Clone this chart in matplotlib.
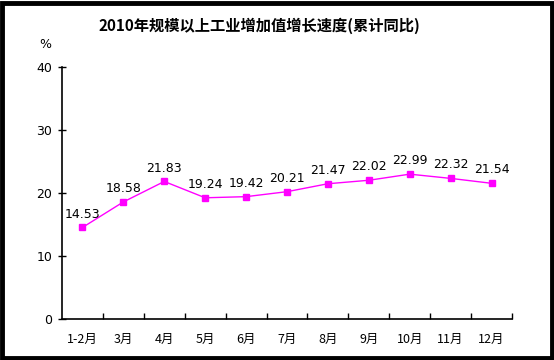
import matplotlib
matplotlib.use("Agg")
import matplotlib.pyplot as plt
from matplotlib.patches import Rectangle
from matplotlib.ticker import FixedLocator

plt.rcParams['font.family'] = ['Noto Sans CJK SC', 'DejaVu Sans']

months = ["1-2月", "3月", "4月", "5月", "6月", "7月", "8月", "9月", "10月", "11月", "12月"]
growth = [14.53, 18.58, 21.83, 19.24, 19.42, 20.21, 21.47, 22.02, 22.99, 22.32, 21.54]
yticks = [0, 10, 20, 30, 40]

fig = plt.figure(figsize=(5.54, 3.6), dpi=100)
ax = fig.add_axes([62/554, 1 - 319/360, 450/554, 252/360])

x = list(range(len(months)))
ax.plot(x, growth, color="#ff00ff", lw=1, marker="s", markersize=4.5,
        markerfacecolor="#ff00ff", markeredgecolor="#ff00ff")
for xi, v in zip(x, growth):
    ax.annotate(f"{v:.2f}", (xi, v), xytext=(0, 5), textcoords="offset points",
                ha="center", va="bottom", fontsize=9, family="DejaVu Sans")

ax.set_xlim(-0.5, len(months) - 0.5)
ax.set_ylim(0, 40)
ax.set_yticks(yticks)
ax.set_yticklabels([str(t) for t in yticks], family="DejaVu Sans", fontsize=9)
ax.tick_params(axis="y", direction="inout", length=6, width=1, pad=4)

# category labels centred, tick marks between categories
ax.xaxis.set_major_locator(FixedLocator([i + 0.5 for i in x]))
ax.xaxis.set_minor_locator(FixedLocator(x))
ax.set_xticklabels([])
ax.set_xticklabels(months, minor=True, fontsize=9)
ax.tick_params(axis="x", which="major", direction="in", length=4, width=1)
ax.tick_params(axis="x", which="minor", length=0, pad=10)

for s in ["top", "right"]:
    ax.spines[s].set_visible(False)
for s in ["left", "bottom"]:
    ax.spines[s].set_linewidth(1.2)

fig.text(259/554, 1 - 26/360, "2010年规模以上工业增加值增长速度(累计同比)",
         ha="center", va="center", fontsize=11, fontweight="bold")
fig.text(45/554, 1 - 44/360, "%", ha="center", va="center", fontsize=9,
         family="DejaVu Sans")

fig.patches.append(Rectangle((2/554, 2/360), 550/554, 355/360, transform=fig.transFigure,
                             fill=False, edgecolor="black", linewidth=3.5))

fig.savefig("out.png", dpi=100)
